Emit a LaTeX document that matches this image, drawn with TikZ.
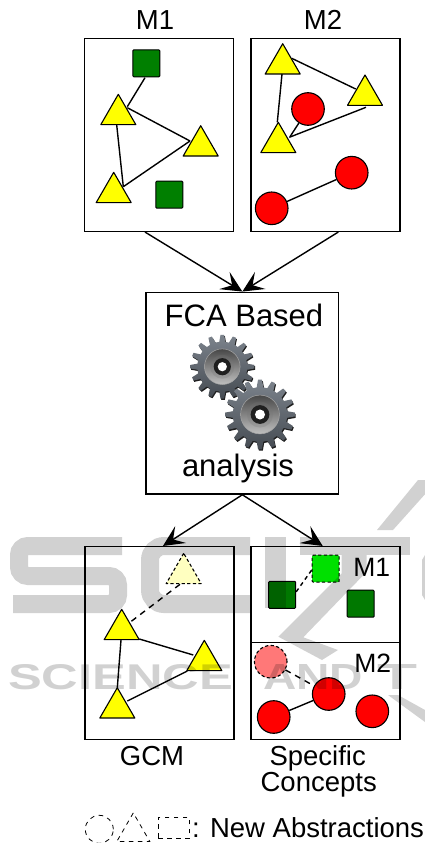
\documentclass[tikz,border=0pt]{standalone}
\usepackage{fontspec}
\usepackage{graphicx}
\setmainfont{Liberation Sans}
\usetikzlibrary{arrows.meta,shapes.geometric}
\definecolor{tri}{HTML}{FFFF00}
\definecolor{palet}{HTML}{FFFFC0}
\definecolor{sqd}{HTML}{007F00}
\definecolor{sqb}{HTML}{007800}
\definecolor{sqn}{HTML}{00E000}
\definecolor{circ}{HTML}{FF0000}
\definecolor{circn}{HTML}{FF7878}
\definecolor{gearhi}{HTML}{7C838C}
\definecolor{gearlo}{HTML}{454B52}
\tikzset{
  boxn/.style={draw,rectangle,line width=1.5pt,inner sep=0,minimum width=149pt},
  tshape/.style={draw,regular polygon,regular polygon sides=3,minimum size=40.4pt,inner sep=0,fill=tri,line width=1.1pt,line join=round},
  sshape/.style={draw,rectangle,minimum size=27pt,inner sep=0,rounded corners=1pt,line width=1pt},
  cshape/.style={draw,circle,minimum size=32.6pt,inner sep=0,fill=circ,line width=1.1pt},
  link/.style={line width=1.4pt},
  dlink/.style={line width=1.4pt,dash pattern=on 6pt off 5pt},
  newdash/.style={dash pattern=on 3.2pt off 2.4pt},
  legend/.style={draw,inner sep=0,line width=.8pt,dash pattern=on 4.5pt off 4.5pt},
  flow/.style={line width=1.4pt,-{Stealth[length=21pt,width=20pt,inset=9pt]}},
  label/.style={anchor=base,inner sep=0,font=\fontsize{27.5}{30}\selectfont},
  mlabel/.style={anchor=base,inner sep=0,font=\fontsize{26.5}{30}\selectfont},
  toplabel/.style={anchor=base,inner sep=0,font=\fontsize{27.5}{30}\selectfont},
  biglabel/.style={anchor=base,inner sep=0,font=\fontsize{31}{33}\selectfont},
  wm/.style={fill=black,fill opacity=.18,draw=none},
  wmline/.style={draw=black,draw opacity=.18,line width=18pt,rounded corners=9pt},
  wmt/.style={anchor=south west,inner sep=0,text=black,text opacity=.18,font=\bfseries\fontsize{40}{40}\selectfont},
}
\newcommand{\gearteeth}{(-7:25) \foreach \a in {0,22.5,...,337.5} { -- ({\a-7}:25) -- ({\a-3.2}:32) -- ({\a+3.2}:32) -- ({\a+7}:25) } -- cycle}
\newcommand{\drawgear}[3]{%
  \begin{scope}[shift={(#1,#2)},scale=#3]
    \fill[black!88,shift={(.8,1.3)},line join=round] \gearteeth;
    \shade[top color=gearhi,bottom color=gearlo,line join=round] \gearteeth;
    \shade[top color=black!72,bottom color=black!25,draw=black!35,line width=.5pt] (0,0) circle (17.8);
    \shade[top color=black!62,bottom color=black!38] (0,0) circle (12);
    \fill[black!88] (0,0) circle (8.6);
    \fill[white] (0,0) circle (4.6);
  \end{scope}}
\begin{document}
\begin{tikzpicture}[x=1pt,y=-1pt]
\useasboundingbox (0,0) rectangle (425,843);
\fill[white] (0,0) rectangle (425,843);

% top boxes
\node[boxn,minimum height=192.6pt] (M1) at (159.2,135) {};
\node[boxn,minimum height=192.6pt] (M2) at (325.5,135) {};
\node[toplabel] (lm1) at (155,29.5) {M1};
\node[toplabel] (lm2) at (323,29.5) {M2};

% M1 contents
\node[sshape,fill=sqd] (s1) at (146.3,63.3) {};
\node[sshape,fill=sqd] (s2) at (169.3,194.7) {};
\node[tshape] (t1) at (118.3,114.5) {};
\node[tshape] (t2) at (200.7,145.9) {};
\node[tshape] (t3) at (113.7,192.5) {};
\draw[link] ([shift={(-1.3,14.4)}]s1.center) -- ([shift={(9,-7.8)}]t1.center);
\draw[link] ([shift={(9,-6.8)}]t1.center) -- ([shift={(-10.7,-4.9)}]t2.center);
\draw[link] ([shift={(-1.6,10.5)}]t1.center) -- ([shift={(9.6,-5.8)}]t3.center);
\draw[link] ([shift={(9.6,-5.8)}]t3.center) -- ([shift={(-10.7,-4.9)}]t2.center);

% M2 contents
\node[tshape] (t4) at (282.7,63.9) {};
\node[tshape] (t5) at (365,95.2) {};
\node[tshape] (t6) at (278.3,142.5) {};
\node[cshape] (c1) at (308,109) {};
\node[cshape] (c2) at (351.7,172.7) {};
\node[cshape] (c3) at (271.7,208.3) {};
\draw[link] ([shift={(9,-5.6)}]t4.center) -- ([shift={(-9.3,-6.2)}]t5.center);
\draw[link] ([shift={(-.7,10.1)}]t4.center) -- ([shift={(-1,-20.2)}]t6.center);
\draw[link] ([shift={(1,12.1)}]t5.center) -- ([shift={(11,-5.2)}]t6.center);
\draw[link] (c1) -- ([shift={(11.7,-5.8)}]t6.center);
\draw[link] (c2) -- (c3);

% FCA box
\node[boxn,minimum width=192.7pt,minimum height=201.7pt] (fca) at (242.35,393.15) {};
\node[biglabel] (lfca) at (244,326.9) {FCA Based};
\node[biglabel] (lana) at (238,476.5) {analysis};
\drawgear{222.3}{366.7}{1}
\drawgear{260}{414.5}{1.09}

% lower boxes
\node[boxn,minimum height=192.6pt] (gcm) at (159.35,643) {};
\node[boxn,minimum height=96pt] (sm1) at (325.5,594.7) {};
\node[boxn,minimum height=96.6pt] (sm2) at (325.5,691) {};

% flows
\draw[flow] ([xshift=-14.2pt]M1.south) -- (fca.north);
\draw[flow] ([xshift=12.8pt]M2.south) -- (fca.north);
\draw[flow] (fca.south) -- ([xshift=3.6pt]gcm.north);
\draw[flow] (fca.south) -- ([xshift=-2.8pt]sm1.north);

% GCM contents
\node[tshape,fill=palet,newdash] (g0) at (183.7,573.5) {};
\node[tshape] (g1) at (121.7,629.5) {};
\node[tshape] (g2) at (204.3,660.5) {};
\node[tshape] (g3) at (117.3,707.9) {};
\draw[dlink] ([shift={(-3.7,10.8)}]g0.center) -- ([shift={(8.3,-7.2)}]g1.center);
\draw[link] ([shift={(17.6,9.5)}]g1.center) -- ([shift={(-11,-5.5)}]g2.center);
\draw[link] ([shift={(-.7,10.5)}]g1.center) -- ([shift={(0,-20.2)}]g3.center);
\draw[link] ([shift={(-17,10.5)}]g2.center) -- ([shift={(10,-6.9)}]g3.center);

% specific M1
\node[sshape,fill=sqn,newdash] (n1) at (325.7,568.7) {};
\node[sshape,fill=sqb] (d1) at (282.2,594.8) {};
\node[sshape,fill=sqb] (d2) at (360.7,603.7) {};
\draw[line width=1.4pt,dash pattern=on 4pt off 3.5pt] ([yshift=3pt]d1.east) -- ([yshift=-1.3pt]n1.west);
\node[mlabel] (sl1) at (371.7,576) {M1};

% specific M2
\node[cshape,fill=circn,newdash] (n2) at (270.7,661.7) {};
\node[cshape] (e1) at (328.7,694) {};
\node[cshape] (e2) at (273.7,717) {};
\node[cshape] (e3) at (372.3,711.3) {};
\draw[dlink] (n2) -- (e1);
\draw[link] (e1) -- (e2);
\node[mlabel] (sl2) at (372.7,672.7) {M2};

% captions
\node[label] (cg) at (152,765) {GCM};
\node[label] (cs) at (317.7,765) {Specific};
\node[label] (cc) at (318.7,791.7) {Concepts};

% legend
\node[legend,circle,minimum size=28pt] (lc) at (99.3,829.3) {};
\node[legend,regular polygon,regular polygon sides=3,minimum size=38pt] (lt) at (133.3,831.9) {};
\node[legend,rectangle,minimum width=31pt,minimum height=21pt] (lr) at (173.8,827.8) {};
\node[label,anchor=base west] (ltext) at (192,837.5) {: New Abstractions};

% watermark
\draw[wmline] (122,546) -- (19,546) -- (19,576) -- (118,576) -- (118,604) -- (13,604);
\draw[wmline,rounded corners=14pt] (250,546) -- (150,546) -- (150,604) -- (250,604);
\fill[wm] (265,537) rectangle (286,608);
\fill[wm] (300,537) -- (410,537) -- (410,555) -- (300,555) -- cycle;
\fill[wm] (341.7,555) -- (366.7,555) -- (366.7,571.7) -- (303.3,637.3) -- (338,650) -- (322,660) -- (278.3,636.7) -- (341.7,573.3) -- cycle;
\fill[wm] (418,480) -- (427,480) -- (427,492) -- (393,530) -- (377,530) -- cycle;
\fill[wm] (425,555) -- (422,560) -- (422,595) -- (425,600) -- cycle;
\fill[wm] (388,695) -- (398,695) -- (425,710) -- (425,722) -- cycle;
\node[wmt] (w3) at (8,690) {\resizebox{225pt}{25pt}{SCIENCE}};
\node[wmt] (w4) at (263,690) {\resizebox{100pt}{25pt}{AND}};
\node[wmt] (w5) at (377,690) {\resizebox{40pt}{25pt}{T}};
\end{tikzpicture}
\end{document}
